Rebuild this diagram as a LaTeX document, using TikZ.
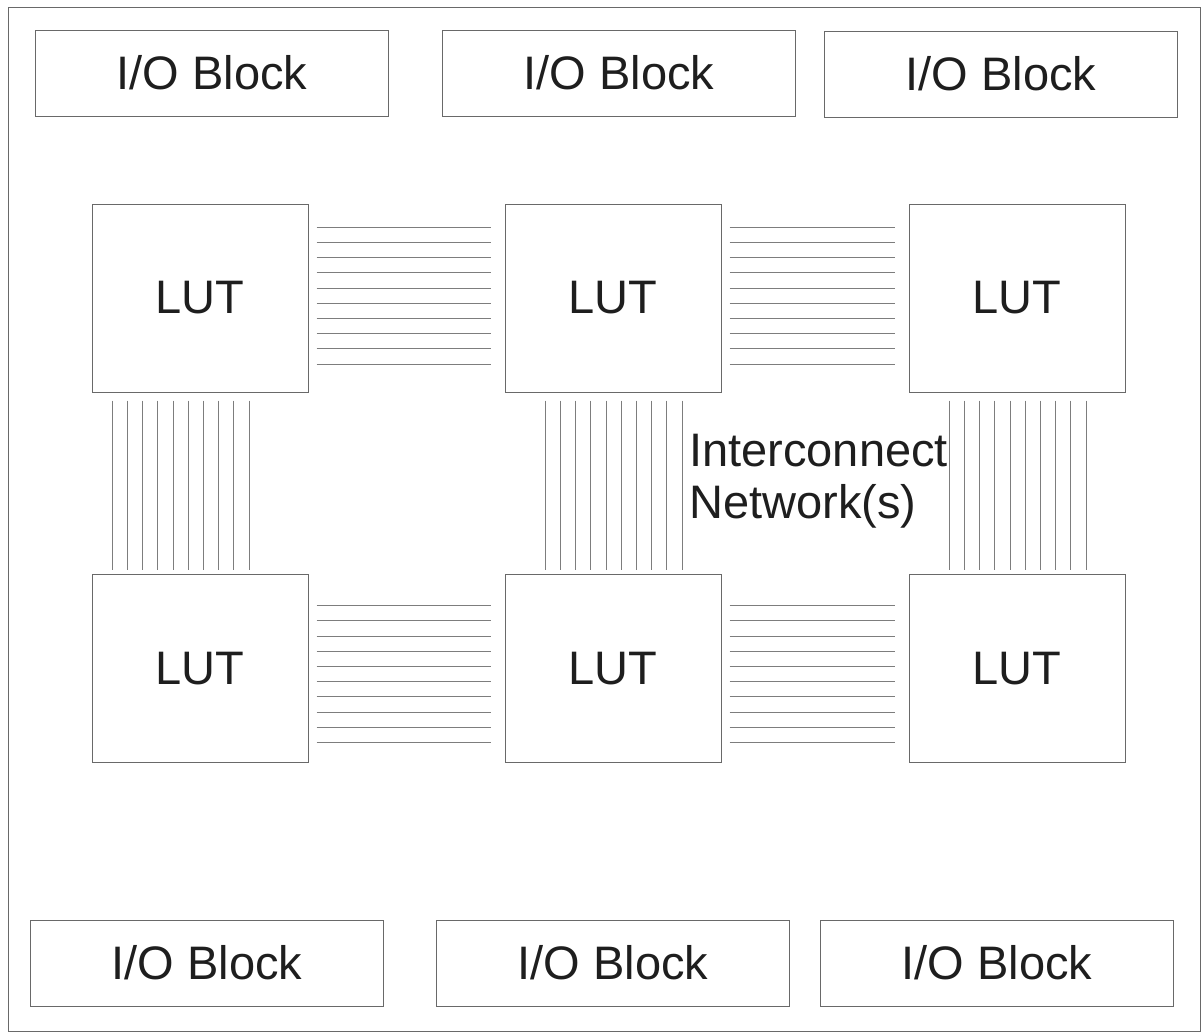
\documentclass[tikz,border=0pt]{standalone}
\usepackage{fontspec}
\setmainfont{Liberation Sans}
\usetikzlibrary{positioning}
\definecolor{framegray}{RGB}{105,105,105}
\definecolor{wiregray}{RGB}{125,125,125}
\definecolor{inkblack}{RGB}{30,30,30}
\tikzset{
  lut block/.style={
    rectangle, draw=framegray, line width=1pt,
    minimum width=216pt, minimum height=188pt,
    text=inkblack, font=\fontsize{47}{52}\selectfont
  },
  io block/.style={
    rectangle, draw=framegray, line width=1pt,
    minimum width=353pt, minimum height=86pt,
    text=inkblack, font=\fontsize{47}{52}\selectfont
  },
  net label/.style={
    inner sep=0pt, align=left, text=inkblack,
    font=\fontsize{47}{52}\selectfont
  },
  wire/.style={wiregray, line width=0.8pt}
}

\begin{document}
\begin{tikzpicture}[x=1pt,y=-1pt]
    \useasboundingbox (0,0) rectangle (1203,1034);
    \draw[framegray, line width=1pt] (8,7) rectangle (1200,1031);
    % I/O blocks, top and bottom
    \node[io block] (io-tl) at (212,73) {I/O Block};
    \node[io block] (io-tm) at (619,73) {I/O Block};
    \node[io block] (io-tr) at (1001,74) {I/O Block};
    \node[io block] (io-bl) at (207,963) {I/O Block};
    \node[io block] (io-bm) at (613,963) {I/O Block};
    \node[io block] (io-br) at (997,963) {I/O Block};
    % LUT array
    \node[lut block] (lut-tl) at (200,298) {LUT};
    \node[lut block] (lut-tm) at (613,298) {LUT};
    \node[lut block] (lut-tr) at (1017,298) {LUT};
    \node[lut block] (lut-bl) at (200,668.5) {LUT};
    \node[lut block] (lut-bm) at (613,668.5) {LUT};
    \node[lut block] (lut-br) at (1017,668.5) {LUT};
    \node[net label, anchor=west] (network) at (689,481) {Interconnect\\Network(s)};
    % horizontal wire bundles
    \foreach \from/\to/\dy in {lut-tl/lut-tm/2.5, lut-tm/lut-tr/2.5, lut-bl/lut-bm/-5.5, lut-bm/lut-br/-5.5}
      \foreach \k in {0,...,9}
        \draw[wire] ([xshift=8pt,yshift={(\dy+68.4-15.2*\k)*1pt}]\from.east)
          -- ([xshift=-14pt,yshift={(\dy+68.4-15.2*\k)*1pt}]\to.west);
    % vertical wire bundles
    \foreach \upper/\lower/\dx in {lut-tl/lut-bl/-19.5, lut-tm/lut-bm/0.5, lut-tr/lut-br/0.5}
      \foreach \k in {0,...,9}
        \draw[wire] ([xshift={(\dx-68.4+15.2*\k)*1pt},yshift=-8pt]\upper.south)
          -- ([xshift={(\dx-68.4+15.2*\k)*1pt},yshift=4pt]\lower.north);
\end{tikzpicture}
\end{document}
